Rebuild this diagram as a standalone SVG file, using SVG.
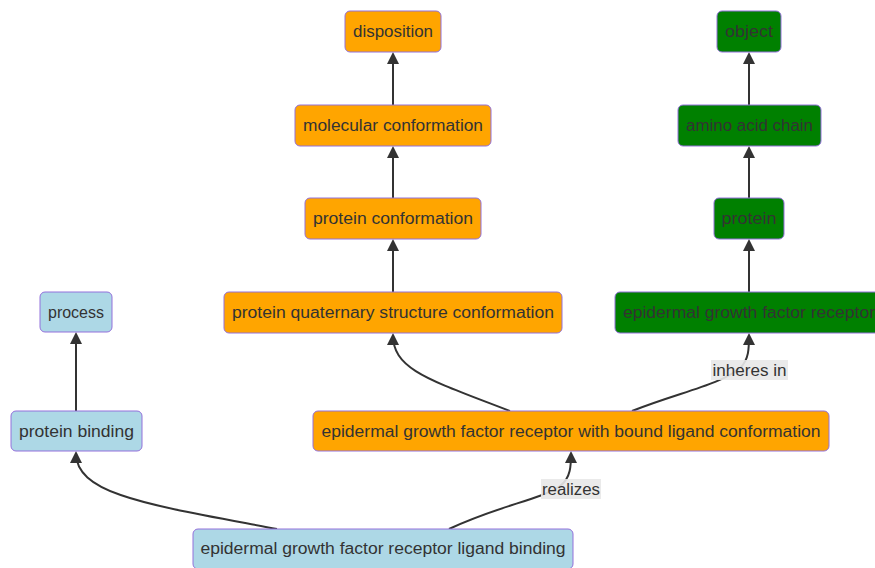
<svg xmlns="http://www.w3.org/2000/svg" width="875" height="568" viewBox="0 0 875 568">
<defs>
<marker id="arr" viewBox="0 0 12 12" refX="10" refY="6" markerWidth="12" markerHeight="12" markerUnits="userSpaceOnUse" orient="auto">
<path d="M0,0 L12,6 L0,12 z" fill="#333"/>
</marker>
<style>
.n rect{stroke:#9370DB;stroke-width:1;}
.o rect{fill:#FFA500;}
.b rect{fill:#ADD8E6;}
.g rect{fill:#008000;}
text{font-family:"Liberation Sans",Arial,sans-serif;font-size:16px;fill:#333;text-anchor:middle;dominant-baseline:central;}
.e path{fill:none;stroke:#333;stroke-width:2;}
.lbl rect{fill:#e8e8e8;opacity:0.9;}
</style>
</defs>
<rect width="875" height="568" fill="#fff"/>
<g class="e">
<path d="M393,105 L393,54" marker-end="url(#arr)"/>
<path d="M393,198 L393,148" marker-end="url(#arr)"/>
<path d="M393,292 L393,241" marker-end="url(#arr)"/>
<path d="M749,105 L749,54" marker-end="url(#arr)"/>
<path d="M749,198 L749,148" marker-end="url(#arr)"/>
<path d="M749,292 L749,241" marker-end="url(#arr)"/>
<path d="M76,411 L76,334" marker-end="url(#arr)"/>
<path d="M277,529 C150,505 76,495 76,453" marker-end="url(#arr)"/>
<path d="M449,529 C500,505 540,500 560,486 C571,478 571,465 571,453" marker-end="url(#arr)"/>
<path d="M510,411 C430,380 393,370 393,335" marker-end="url(#arr)"/>
<path d="M632,411 C680,392 720,385 740,368 C749,360 749,348 749,335" marker-end="url(#arr)"/>
</g>
<g class="lbl">
<rect x="711" y="360" width="77" height="20"/>
<text x="749.5" y="370" textLength="74" lengthAdjust="spacingAndGlyphs">inheres in</text>
<rect x="541" y="479" width="60" height="20"/>
<text x="571" y="489" textLength="58" lengthAdjust="spacingAndGlyphs">realizes</text>
</g>
<g id="disposition" class="n o"><rect x="345" y="11" width="96" height="41" rx="5"/><text x="393" y="31.5" textLength="80" lengthAdjust="spacingAndGlyphs">disposition</text></g>
<g id="molecular_conformation" class="n o"><rect x="295" y="105" width="196" height="41" rx="5"/><text x="393" y="125.5" textLength="180" lengthAdjust="spacingAndGlyphs">molecular conformation</text></g>
<g id="protein_conformation" class="n o"><rect x="305" y="198" width="176" height="41" rx="5"/><text x="393" y="218.5" textLength="160" lengthAdjust="spacingAndGlyphs">protein conformation</text></g>
<g id="protein_quaternary" class="n o"><rect x="224" y="292" width="338" height="41" rx="5"/><text x="393" y="312.5" textLength="322" lengthAdjust="spacingAndGlyphs">protein quaternary structure conformation</text></g>
<g id="egfr_bound" class="n o"><rect x="313" y="411" width="516" height="40" rx="5"/><text x="571" y="431" textLength="499" lengthAdjust="spacingAndGlyphs">epidermal growth factor receptor with bound ligand conformation</text></g>
<g id="process" class="n b"><rect x="40" y="292" width="72" height="40" rx="5"/><text x="76" y="312" textLength="56" lengthAdjust="spacingAndGlyphs">process</text></g>
<g id="protein_binding" class="n b"><rect x="11" y="411" width="131" height="40" rx="5"/><text x="76.5" y="431" textLength="115" lengthAdjust="spacingAndGlyphs">protein binding</text></g>
<g id="egfr_ligand_binding" class="n b"><rect x="193" y="529" width="380" height="40" rx="5"/><text x="383" y="548.5" textLength="365" lengthAdjust="spacingAndGlyphs">epidermal growth factor receptor ligand binding</text></g>
<g id="object" class="n g"><rect x="717" y="11" width="64" height="41" rx="5"/><text x="749" y="31.5" textLength="48" lengthAdjust="spacingAndGlyphs">object</text></g>
<g id="amino_acid_chain" class="n g"><rect x="678" y="105" width="143" height="41" rx="5"/><text x="749.5" y="125.5" textLength="127" lengthAdjust="spacingAndGlyphs">amino acid chain</text></g>
<g id="protein" class="n g"><rect x="714" y="198" width="70" height="41" rx="5"/><text x="749" y="218.5" textLength="55" lengthAdjust="spacingAndGlyphs">protein</text></g>
<g id="egfr" class="n g"><rect x="615" y="292" width="268" height="41" rx="5"/><text x="749" y="312.5" textLength="252" lengthAdjust="spacingAndGlyphs">epidermal growth factor receptor</text></g>
</svg>
